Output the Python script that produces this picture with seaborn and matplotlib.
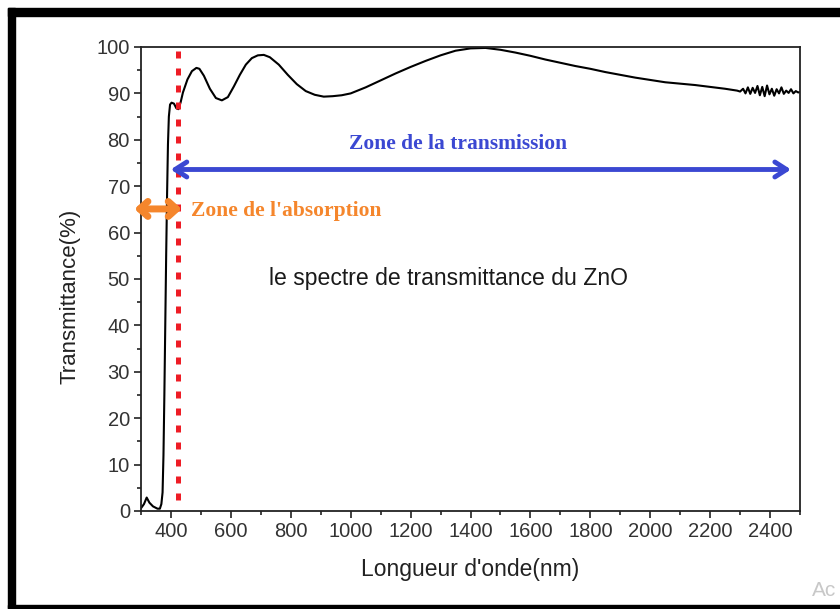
import matplotlib
matplotlib.use("Agg")
import matplotlib.pyplot as plt
from matplotlib.patches import Rectangle
from matplotlib.ticker import MultipleLocator
import numpy as np
import pandas as pd
import seaborn as sns

# Transmission spectrum of a ZnO film
wavelength_nm = [
    300, 310, 319, 328, 340, 355, 363, 368, 372, 375, 378, 381, 384, 387, 390,
    393, 397, 402, 410, 418, 425, 432, 440, 455, 470, 485, 495, 510, 530, 550,
    570, 590, 610, 630, 650, 670, 690, 710, 730, 760, 790, 820, 850, 880, 910,
    940, 970, 1000, 1050, 1100, 1150, 1200, 1250, 1300, 1350, 1400, 1450, 1500,
    1550, 1600, 1650, 1700, 1750, 1800, 1850, 1900, 1950, 2000, 2050, 2100,
    2150, 2200, 2250, 2290, 2300, 2310, 2318, 2326, 2334, 2342, 2350, 2358,
    2366, 2374, 2382, 2390, 2398, 2406, 2414, 2422, 2430, 2438, 2446, 2454,
    2462, 2470, 2478, 2486, 2494, 2500,
]
transmittance_pct = [
    0.6, 1.5, 2.9, 1.8, 1.0, 0.5, 0.5, 1.5, 4.0, 12.0, 25.0, 40.0, 55.0, 68.0, 79.0,
    85.0, 87.6, 88.0, 87.8, 86.8, 86.6, 88.0, 90.2, 93.0, 94.8, 95.5, 95.3, 93.8, 91.0, 89.0,
    88.5, 89.2, 91.5, 94.0, 96.2, 97.6, 98.2, 98.3, 97.8, 96.2, 94.0, 92.0, 90.5, 89.7, 89.3,
    89.4, 89.6, 90.0, 91.3, 92.8, 94.3, 95.7, 97.0, 98.2, 99.2, 99.7, 99.8, 99.4,
    98.8, 98.1, 97.3, 96.6, 95.9, 95.3, 94.6, 94.0, 93.4, 92.9, 92.4, 92.1,
    91.8, 91.4, 91.0, 90.6, 90.4, 91.0, 90.0, 91.3, 89.9, 91.2, 90.1, 91.6,
    89.6, 91.4, 89.4, 91.7, 89.8, 91.0, 89.5, 90.9, 90.0, 91.3, 89.9, 90.6,
    90.1, 90.9, 90.0, 90.5, 90.2, 90.3,
]

x_ticks = [400, 600, 800, 1000, 1200, 1400, 1600, 1800, 2000, 2200, 2400]
y_ticks = [0, 10, 20, 30, 40, 50, 60, 70, 80, 90, 100]

# Annotation anchors (wavelength, transmittance)
edge_wavelength = 423.5
edge_span = (2.4, 99.4)
transmission_span = (399, 2470)
transmission_level = 73.6
absorption_span = (278, 436)
absorption_level = 65.1

df = pd.DataFrame({"wavelength": wavelength_nm, "T": transmittance_pct})

sns.set_theme(style="ticks")
plt.rcParams["font.family"] = ["Liberation Sans", "DejaVu Sans"]

fig = plt.figure(figsize=(8.4, 6.09), dpi=100)
fig.patch.set_facecolor("white")
ax = fig.add_axes([141 / 840, 1 - 511 / 609, 659 / 840, 464 / 609])

sns.lineplot(data=df, x="wavelength", y="T", ax=ax, color="black",
             linewidth=1.5, estimator=None, sort=False)

ax.set_xlim(300, 2500)
ax.set_ylim(0, 100)
ax.set_xticks(x_ticks)
ax.set_yticks(y_ticks)
ax.xaxis.set_minor_locator(MultipleLocator(100))
ax.yaxis.set_minor_locator(MultipleLocator(5))
ax.tick_params(which="major", direction="out", length=5, width=1.2,
               color="#222222", labelsize=14.5, labelcolor="#333333", pad=3)
ax.tick_params(which="minor", direction="out", length=3, width=1.2, color="#222222")
for s in ax.spines.values():
    s.set_visible(True)
    s.set_linewidth(1.3)
    s.set_color("#222222")

ax.set_xlabel("Longueur d'onde(nm)", fontsize=16.5, color="#222222", labelpad=12)
ax.set_ylabel("Transmittance(%)", fontsize=16, color="#222222")
ax.yaxis.set_label_coords(-0.092, 0.463)

# absorption edge marker
ax.plot([edge_wavelength, edge_wavelength], edge_span, color="#ee1c25",
        linewidth=3.6, linestyle=(0, (1.4, 2.0)), solid_capstyle="butt",
        dash_capstyle="butt", zorder=3)

# transmission zone arrow
ax.annotate("", xy=(transmission_span[1], transmission_level),
            xytext=(transmission_span[0], transmission_level),
            arrowprops=dict(arrowstyle="<->,head_length=0.7,head_width=0.45",
                            color="#3b48d2", lw=3.5, shrinkA=0, shrinkB=0),
            zorder=4)
ax.text(1358, 79.1, "Zone de la transmission", color="#3b48d2",
        fontsize=15.5, fontweight="bold", family=["Liberation Serif", "DejaVu Serif"],
        ha="center", va="center")

# absorption zone arrow
ax.annotate("", xy=(absorption_span[1], absorption_level),
            xytext=(absorption_span[0], absorption_level),
            arrowprops=dict(arrowstyle="<->,head_length=0.5,head_width=0.45",
                            color="#f5862c", lw=5, shrinkA=0, shrinkB=0),
            annotation_clip=False, zorder=4)
ax.text(467, 64.7, "Zone de l'absorption", color="#f5862c",
        fontsize=15.5, fontweight="bold", family=["Liberation Serif", "DejaVu Serif"],
        ha="left", va="center")

ax.text(1328, 50, "le spectre de transmittance du ZnO", color="#1a1a1a",
        fontsize=16.6, ha="center", va="center")

# black frame around the plate
W, H = 840, 609
fig.patches.append(Rectangle((8 / W, 1 - 16 / H), 1 - 8 / W, 8 / H,
                             transform=fig.transFigure, color="black", zorder=10))
fig.patches.append(Rectangle((8 / W, 0), 7 / W, 1 - 8 / H,
                             transform=fig.transFigure, color="black", zorder=10))
fig.patches.append(Rectangle((8 / W, 1.5 / H), 1 - 8 / W, 2.5 / H,
                             transform=fig.transFigure, color="black", zorder=10))

fig.text(812 / W, 1 - 591 / H, "Ac", color="#c8c8c8", fontsize=15,
         ha="left", va="center")

fig.savefig("out.png", dpi=100)
